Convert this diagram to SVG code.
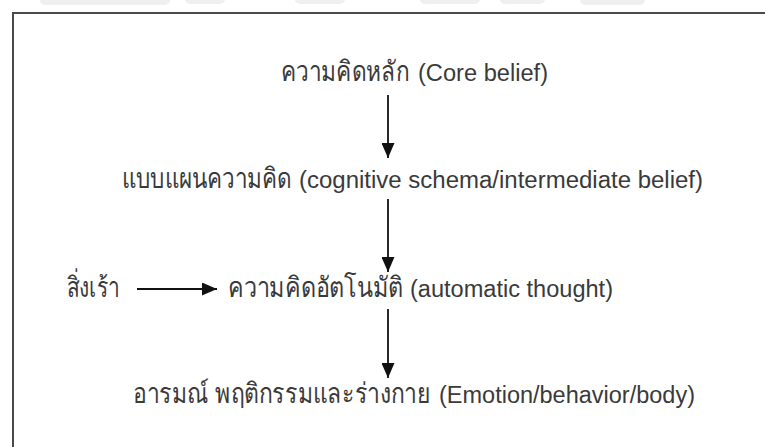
<svg xmlns="http://www.w3.org/2000/svg" width="765" height="447" viewBox="0 0 765 447">
  <defs>
    <style>
      .t { font-family: "Liberation Sans", "Noto Sans", "DejaVu Sans", sans-serif; font-size: 23px; fill: #3a3a3a; }
      .th { font-size: 28px; }
      .frame { fill: none; stroke: #4a4a4a; stroke-width: 2; }
      .conn { stroke: #111; stroke-width: 1.8; fill: none; }
      .wm { fill: #efefef; }
    </style>
    <marker id="ah" viewBox="0 0 15 13" refX="15" refY="6.5" markerWidth="15" markerHeight="13" markerUnits="userSpaceOnUse" orient="auto">
      <path d="M0,0 L15,6.5 L0,13 Z" fill="#111"/>
    </marker>
  </defs>
  <rect width="765" height="447" fill="#ffffff"/>
  <g id="watermark">
    <rect class="wm" x="40" y="-6" width="130" height="11" rx="5"/>
    <rect class="wm" x="185" y="-6" width="40" height="10" rx="5"/>
    <rect class="wm" x="295" y="-6" width="50" height="10" rx="5"/>
    <rect class="wm" x="420" y="-6" width="60" height="10" rx="5"/>
    <rect class="wm" x="500" y="-6" width="45" height="10" rx="5"/>
    <rect class="wm" x="580" y="-6" width="65" height="11" rx="5"/>
  </g>
  <path id="frame" class="frame" d="M13,447 L13,13 L765,13"/>
  <g id="connectors">
    <line class="conn" x1="388" y1="95" x2="388" y2="158" marker-end="url(#ah)"/>
    <line class="conn" x1="388" y1="199" x2="388" y2="272" marker-end="url(#ah)"/>
    <line class="conn" x1="388" y1="309" x2="388" y2="378" marker-end="url(#ah)"/>
    <line class="conn" x1="137" y1="289" x2="217" y2="289" marker-end="url(#ah)"/>
  </g>
  <g id="core-belief">
    <text class="t th" transform="translate(281,81) scale(0.8,1)" textLength="160" lengthAdjust="spacingAndGlyphs">ความคิดหลัก</text>
    <text class="t" x="418" y="81" textLength="130" lengthAdjust="spacingAndGlyphs">(Core belief)</text>
  </g>
  <g id="schema">
    <text class="t th" transform="translate(122,188) scale(0.8,1)" textLength="212" lengthAdjust="spacingAndGlyphs">แบบแผนความคิด</text>
    <text class="t" x="299" y="188" textLength="404" lengthAdjust="spacingAndGlyphs">(cognitive schema/intermediate belief)</text>
  </g>
  <g id="stimulus">
    <text class="t th" transform="translate(67,297) scale(0.8,1)" textLength="66" lengthAdjust="spacingAndGlyphs">สิ่งเร้า</text>
  </g>
  <g id="automatic-thought">
    <text class="t th" transform="translate(228,297) scale(0.8,1)" textLength="219" lengthAdjust="spacingAndGlyphs">ความคิดอัตโนมัติ</text>
    <text class="t" x="410" y="297" textLength="203" lengthAdjust="spacingAndGlyphs">(automatic thought)</text>
  </g>
  <g id="emotion">
    <text class="t th" transform="translate(133,403) scale(0.8,1)" textLength="372" lengthAdjust="spacingAndGlyphs">อารมณ์ พฤติกรรมและร่างกาย</text>
    <text class="t" x="439" y="403" textLength="256" lengthAdjust="spacingAndGlyphs">(Emotion/behavior/body)</text>
  </g>
</svg>
